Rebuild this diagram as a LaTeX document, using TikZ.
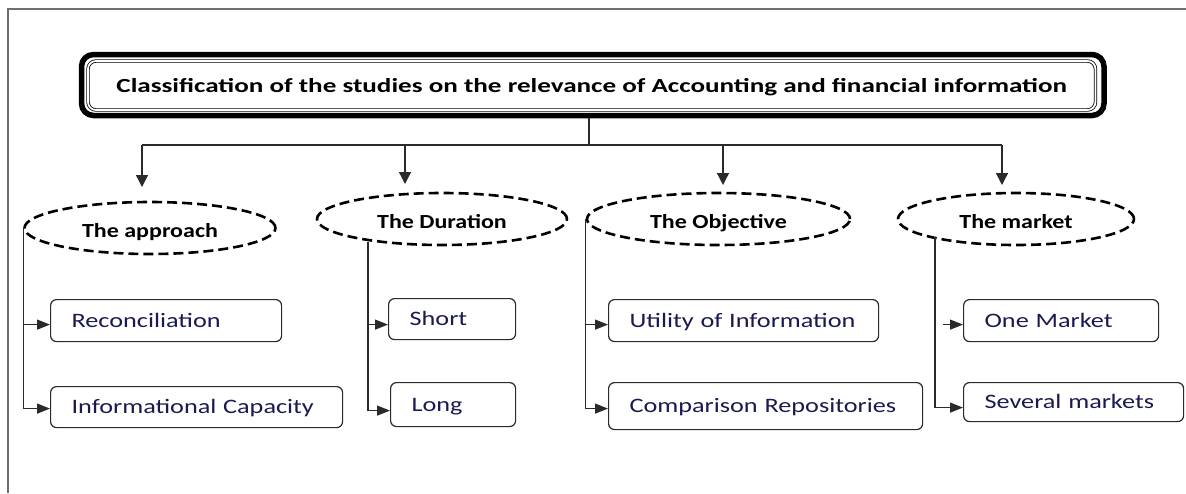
\documentclass[tikz,border=0pt]{standalone}
\usepackage{fontspec}
\setmainfont{Carlito}
\newfontfamily\leaffam{Carlito}[FakeStretch=1.28]
\newfontfamily\catfam{Carlito}[FakeStretch=1.2]
\newfontfamily\titlefam{Carlito}[FakeStretch=1.355]
\usetikzlibrary{arrows.meta,shapes.geometric,calc}
\definecolor{ink}{HTML}{1A1A50}
\definecolor{lin}{HTML}{2A2A2A}
\definecolor{framegray}{HTML}{6E6E6E}
\begin{document}
\begin{tikzpicture}[x=1pt,y=-1pt,
  conn/.style={draw=lin, line width=1.3pt},
  arr/.style={conn, -{Triangle[length=13pt,width=10pt]}},
  droparr/.style={conn, -{Triangle[length=12pt,width=12pt]}},
  cat/.style={ellipse, draw=black, line width=2.6pt, dash pattern=on 10pt off 5pt,
    inner sep=0pt, font=\catfam\bfseries\fontsize{20}{24}\selectfont, text=black,
    text height=19pt, text depth=0pt},
  leaf/.style={draw=lin, line width=1.2pt, rounded corners=6pt, anchor=north west,
    inner xsep=21pt, inner ysep=0pt, align=left,
    font=\leaffam\fontsize{20.5}{24}\selectfont, text=ink, text height=13pt, text depth=0pt},
]
\useasboundingbox (0,0) rectangle (1186,493);
\fill[white] (0,0) rectangle (1186,493);
% outer frame
\draw[framegray, line width=1.5pt] (8,493) -- (8,9) -- (1186,9);

% title
\node[draw=black, line width=5.5pt, rounded corners=12pt, minimum width=1022.5pt,
  minimum height=61pt, inner sep=0pt] (frame) at (592.75,85) {};
\node[draw=black, line width=0.8pt, double, double distance=1.8pt, rounded corners=8pt,
  minimum width=1007.5pt, minimum height=49pt, inner sep=0pt,
  font=\titlefam\bfseries\fontsize{20}{24}\selectfont, text=black,
  text height=13pt, text depth=0pt] (title) at (591.75,85.5)
  {Classification of the studies on the relevance of Accounting and financial information};

% categories
\node[cat, minimum width=251pt, minimum height=52pt] (e1) at (150,228) {The approach};
\node[cat, minimum width=250pt, minimum height=52pt] (e2) at (442,219) {The Duration};
\node[cat, minimum width=263pt, minimum height=52pt] (e3) at (718.5,219) {The Objective};
\node[cat, minimum width=236pt, minimum height=52pt] (e4) at (1016,219) {The market};

% leaves
\node[leaf, minimum width=231pt, minimum height=42pt, text width=189pt] (r1) at (50,299) {\mbox{Reconciliation}};
\node[leaf, minimum width=292pt, minimum height=41pt, text width=250pt] (i1) at (50,386) {\mbox{Informational Capacity}};
\node[leaf, minimum width=127pt, minimum height=41pt, text width=85pt] (s1) at (388,298) {\mbox{Short}};
\node[leaf, minimum width=125pt, minimum height=44pt, text width=83pt] (l1) at (390,382) {\mbox{Long}};
\node[leaf, minimum width=270pt, minimum height=42pt, text width=228pt] (u1) at (608,299) {\mbox{Utility of Information}};
\node[leaf, minimum width=314pt, minimum height=47pt, text width=272pt] (c1) at (608,382) {\mbox{Comparison Repositories}};
\node[leaf, minimum width=195pt, minimum height=42pt, text width=153pt] (o1) at (963,299) {\mbox{One Market}};
\node[leaf, minimum width=220pt, minimum height=39pt, text width=178pt] (m1) at (963,382) {\mbox{Several markets}};

% connectors from title
\coordinate (hub) at (589,145);
\coordinate (h1) at (142,145);
\coordinate (h4) at (1002,145);
\coordinate (d1) at (142,187);
\coordinate (d2) at (405,184);
\coordinate (d3) at (723,185);
\coordinate (d4) at (1002,185);
\draw[conn] (frame.south -| hub) -- (hub);
\draw[conn] (h1) -- (h4);
\draw[droparr] (d1 |- hub) -- (d1);
\draw[droparr] (d2 |- hub) -- (d2);
\draw[droparr] (d3 |- hub) -- (d3);
\draw[droparr] (d4 |- hub) -- (d4);

% branch entry points
\coordinate (r1in) at ([yshift=-4pt]r1.west);
\coordinate (i1in) at ([yshift=-1.5pt]i1.west);
\coordinate (s1in) at ([yshift=-5.5pt]s1.west);
\coordinate (l1in) at ([yshift=-6pt]l1.west);
\coordinate (u1in) at ([yshift=-4pt]u1.west);
\coordinate (c1in) at ([yshift=-2.5pt]c1.west);
\coordinate (o1in) at ([yshift=-4pt]o1.west);
\coordinate (m1in) at ([yshift=-5.5pt]m1.west);
\coordinate (t2) at (368,242);
\coordinate (t4) at (935,237);

% approach
\draw[arr] (e1.west) |- (i1in);
\draw[arr] (e1.west |- r1in) -- (r1in);
% duration
\draw[arr] (t2) |- (l1in);
\draw[arr] (t2 |- s1in) -- (s1in);
% objective
\draw[arr] (e3.west) |- (c1in);
\draw[arr] (e3.west |- u1in) -- (u1in);
% market
\draw[arr] (t4) |- (m1in);
\draw[arr] ([xshift=-20pt]o1in) -- (o1in);
\end{tikzpicture}
\end{document}
